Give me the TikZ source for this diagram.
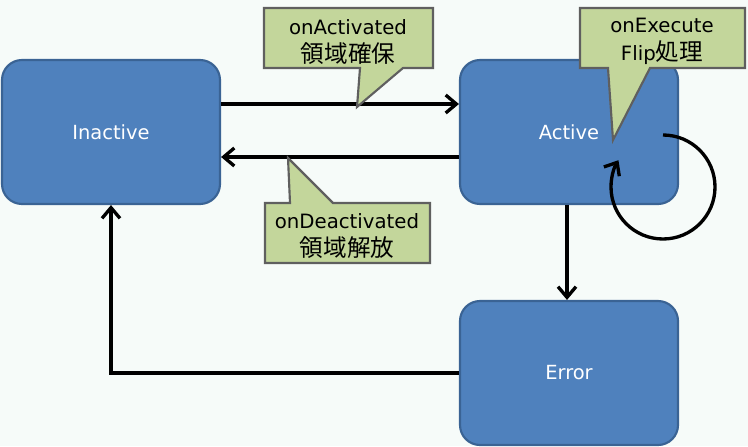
\documentclass[tikz,border=0pt]{standalone}
\usepackage{fontspec}
\setmainfont{DejaVu Sans}
\newfontfamily\cjk{Noto Sans CJK JP}
\usetikzlibrary{arrows.meta}
\definecolor{bg}{RGB}{246,251,249}
\definecolor{boxfill}{RGB}{79,129,189}
\definecolor{boxline}{RGB}{58,99,148}
\definecolor{callfill}{RGB}{195,214,155}
\definecolor{callline}{RGB}{95,95,95}
\newcommand{\cj}[1]{{\cjk\fontsize{17.7}{21}\selectfont #1}}
\begin{document}
\begin{tikzpicture}[x=0.75pt,y=-0.75pt,
  state/.style={draw=boxline, line width=1.6pt, fill=boxfill, rounded corners=15pt,
    minimum width=163.5pt, minimum height=108pt, text=white,
    font=\fontsize{14.6}{16}\selectfont, inner sep=0pt},
  callout/.style={draw=callline, line width=1.6pt, fill=callfill, line join=miter},
  calltext/.style={align=center, font=\fontsize{14.8}{21}\selectfont, inner sep=0pt},
  arr/.style={line width=2.5pt, -{Straight Barb[length=8pt,width=13.5pt]}}]
\fill[bg] (0,0) rectangle (748,446);
\useasboundingbox (0,0) rectangle (748,446);

\node[state] (inactive) at (111,132) {Inactive};
\node[state] (active) at (569,132) {Active};
\node[state] (error) at (569,373) {Error};

\draw[arr] ([yshift=21pt]inactive.east) -- ([yshift=21pt]active.west);
\draw[arr] ([yshift=-18.75pt]active.west) -- ([yshift=-18.75pt]inactive.east);
\draw[arr] ([xshift=-1.5pt]active.south) -- ([xshift=-1.5pt]error.north);
\draw[arr] (error.west) -| (inactive.south);
\draw[arr] ([shift={(94,3)}]active.center) arc[start angle=-90, end angle=211, radius=52];

% callouts
\draw[callout] (264,8) -- (433,8) -- (433,68) -- (403,68) -- (357,107) -- (360,68) -- (264,68) -- cycle;
\node[calltext] (c1) at (348,41.5) {onActivated\\\cj{領域確保}};

\draw[callout] (580,8) -- (745,8) -- (745,68) -- (650,68) -- (613,140) -- (608,68) -- (580,68) -- cycle;
\node[calltext] (c2) at (662,41.5) {onExecute\\Flip\cj{処理}};

\draw[callout] (265,203) -- (290,203) -- (288,158) -- (333,203) -- (430,203) -- (430,263) -- (265,263) -- cycle;
\node[calltext] (c3) at (347,236) {onDeactivated\\\cj{領域解放}};
\end{tikzpicture}
\end{document}
